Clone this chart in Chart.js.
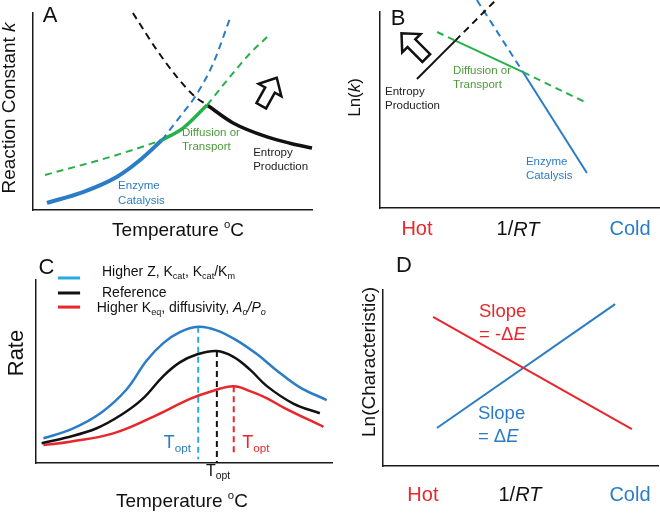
<!DOCTYPE html>
<html>
<head>
<meta charset="utf-8">
<script src="https://cdn.jsdelivr.net/npm/chart.js@4"></script>
<style>
  html, body { margin: 0; background: #fff; overflow: hidden; width: 660px; height: 513px; }
  .panel { position: absolute; }
</style>
</head>
<body>
<div class="panel" style="left:0;top:0;width:330px;height:245px"><canvas id="chartA"></canvas></div>
<div class="panel" style="left:330px;top:0;width:330px;height:245px"><canvas id="chartB"></canvas></div>
<div class="panel" style="left:0;top:245px;width:340px;height:268px"><canvas id="chartC"></canvas></div>
<div class="panel" style="left:330px;top:245px;width:330px;height:268px"><canvas id="chartD"></canvas></div>
<script>
const FONT = '"Liberation Sans", Arial, sans-serif';
const BLUE = '#2b7cc6', GREEN = '#27b04a', RED = '#e8262b', CYAN = '#29abe2', BLACK = '#111';
const GREEN_TXT = '#4c9a3a';

// Panel A: reaction constant k against temperature (arbitrary 0-100 units)
const aEnzyme = [[5, 3.6], [17.9, 9.1], [30, 16.8], [38.4, 25.4], [46.2, 35.5]];
const aEnzymeExtra = [[46.2, 35.5], [52.7, 47.4], [58.1, 57.5], [64.6, 74.5], [70.6, 97.3]];
const aDiffLow = [[4.3, 17.8], [24, 25.4], [35.8, 30.5], [46.2, 35.5]];
const aDiff = [[46.2, 35.5], [53.8, 41.6], [62.4, 53.3]];
const aDiffHigh = [[62.4, 53.3], [71.7, 69.5], [77.8, 79.5], [83.9, 87.8]];
const aEntropyExtra = [[35.8, 100], [44.4, 81.2], [51.6, 67.5], [58.1, 57.5], [62.4, 53.3]];
const aEntropy = [[62.4, 53.3], [71.7, 44.2], [83.9, 37.1], [92.1, 33.9], [100, 31.5]];

// Panel B: ln(k) against 1/RT
const bEntropy = [[13.2, 65.8], [26.9, 85.4]];
const bEntropyExtra = [[26.9, 85.4], [41.8, 106.7]];
const bDiffHot = [[20.4, 89.8], [26.9, 85.4]];
const bDiff = [[26.9, 85.4], [51.1, 69.3]];
const bDiffCold = [[51.1, 69.3], [73.2, 54.1]];
const bEnzymeExtra = [[34.6, 106.1], [51.1, 69.3]];
const bEnzyme = [[51.1, 69.3], [73.9, 17.9]];

// Panel C: rate against temperature
const cHigherZ = [[2.5, 13.5], [12, 18.5], [22, 27.5], [30.5, 40], [37.4, 56], [43, 65.5], [48.6, 71.5], [54.8, 74.4], [61, 72.5], [67.8, 67], [74.6, 59.5], [81, 51], [89, 41.5], [98.2, 34.4]];
const cReference = [[1.9, 10.8], [10, 13.8], [20.5, 19], [29, 26.5], [36, 35], [43, 47.5], [48.6, 55], [54.3, 59.3], [61.1, 61.2], [66.7, 58], [72.3, 51], [78, 42], [86.9, 32.5], [95.9, 27.2]];
const cHigherKeq = [[2.5, 9.8], [11.5, 11.6], [26.1, 16.2], [40.8, 26.2], [52, 35], [59.9, 39.5], [66.8, 42], [72.3, 39.3], [77.9, 35.5], [84, 30], [97.1, 19.8]];
const cToptX = [54.8, 61.1, 66.8];
const cToptTop = [74.4, 61.2, 42];
const cToptFloor = [2, 0, 4.4];

// Panel D: ln(characteristic) against 1/RT
const dNegSlope = [[18.2, 84.7], [90.5, 21]];
const dPosSlope = [[19.6, 21.6], [84.4, 92]];

const pts = arr => arr.map(([x, y]) => ({ x, y }));

// curve: false = straight, 'mono' = monotone cubic, number = bezier tension
function line(data, color, width, dashed, curve) {
  return {
    data: pts(data), borderColor: color, borderWidth: width,
    borderDash: dashed ? [7, 5] : [], pointRadius: 0, fill: false,
    cubicInterpolationMode: curve === 'mono' ? 'monotone' : 'default',
    tension: typeof curve === 'number' ? curve : 0, clip: false
  };
}

function drawRich(ctx, x, y, segs, opt) {
  const size = opt.size;
  ctx.save();
  ctx.translate(x, y);
  if (opt.rotate) ctx.rotate(-Math.PI / 2);
  ctx.textBaseline = 'middle';
  ctx.textAlign = 'left';
  ctx.fillStyle = opt.color || BLACK;
  const parts = segs.map(s => {
    const [t, st = ''] = typeof s === 'string' ? [s] : s;
    const sub = st.includes('s'), sup = st.includes('^');
    const sz = sub ? size * 0.65 : sup ? size * 0.6 : size;
    const font = (st.includes('i') ? 'italic ' : '') + sz + 'px ' + FONT;
    ctx.font = font;
    return { t, font, w: ctx.measureText(t).width, dy: sub ? size * 0.3 : sup ? -size * 0.33 : 0 };
  });
  const total = parts.reduce((a, p) => a + p.w, 0);
  let cx = opt.align === 'left' ? 0 : -total / 2;
  parts.forEach(p => { ctx.font = p.font; ctx.fillText(p.t, cx, p.dy); cx += p.w; });
  ctx.restore();
}

function drawArrow(ctx, cx, cy, deg, len) {
  const hw = 13, sw = 5.5, hl = 14, t = len / 2;
  ctx.save();
  ctx.translate(cx, cy);
  ctx.rotate(-deg * Math.PI / 180);
  ctx.beginPath();
  ctx.moveTo(t, 0);
  ctx.lineTo(t - hl, -hw);
  ctx.lineTo(t - hl, -sw);
  ctx.lineTo(-t, -sw);
  ctx.lineTo(-t, sw);
  ctx.lineTo(t - hl, sw);
  ctx.lineTo(t - hl, hw);
  ctx.closePath();
  ctx.fillStyle = '#fff';
  ctx.fill();
  ctx.lineWidth = 2.5;
  ctx.strokeStyle = BLACK;
  ctx.stroke();
  ctx.restore();
}

// text, legend swatches and arrows placed through the chart's scales
function annotator(notes, arrows) {
  return {
    id: 'annotator',
    afterDatasetsDraw(chart) {
      const { ctx, scales: { x, y } } = chart;
      arrows.forEach(a => drawArrow(ctx, x.getPixelForValue(a.x), y.getPixelForValue(a.y), a.angle, a.len));
      notes.forEach(n => {
        if (n.swatch) {
          ctx.save();
          ctx.strokeStyle = n.color;
          ctx.lineWidth = 3;
          ctx.beginPath();
          ctx.moveTo(x.getPixelForValue(n.x), y.getPixelForValue(n.y));
          ctx.lineTo(x.getPixelForValue(n.x2), y.getPixelForValue(n.y));
          ctx.stroke();
          ctx.restore();
          return;
        }
        const px = x.getPixelForValue(n.x), py = y.getPixelForValue(n.y);
        const lh = n.lineHeight || n.size * 1.2;
        n.lines.forEach((segs, i) => drawRich(ctx, px, py + i * lh, segs, n));
      });
    }
  };
}

const axis = () => ({
  type: 'linear', min: 0, max: 100,
  grid: { display: false, drawTicks: false },
  ticks: { display: false },
  border: { display: true, color: '#1a1a1a', width: 1.5 }
});

function panel(id, datasets, padding, notes, arrows) {
  return new Chart(document.getElementById(id), {
    type: 'line',
    data: { datasets },
    options: {
      animation: false, responsive: true, maintainAspectRatio: false,
      layout: { padding },
      plugins: { legend: { display: false }, tooltip: { enabled: false } },
      scales: { x: axis(), y: axis() }
    },
    plugins: [annotator(notes, arrows || [])]
  });
}

panel('chartA', [
  line(aEnzymeExtra, BLUE, 2, true, 'mono'),
  line(aDiffLow, GREEN, 2, true, 'mono'),
  line(aDiffHigh, GREEN, 2, true, 'mono'),
  line(aEntropyExtra, BLACK, 2, true, 'mono'),
  line(aEnzyme, BLUE, 4, false, 'mono'),
  line(aDiff, GREEN, 3.5, false, 'mono'),
  line(aEntropy, BLACK, 3.5, false, 'mono')
], { left: 33, top: 13, right: 18, bottom: 35 }, [
  { x: 6.1, y: 98.5, size: 22, lines: [['A']] },
  { x: -8.2, y: 51.8, size: 19, rotate: true, lines: [['Reaction Constant ', ['k', 'i']]] },
  { x: 52, y: -10.7, size: 19, lines: [['Temperature ', ['o', '^'], 'C']] },
  { x: 30.5, y: 12.2, size: 11.5, color: BLUE, align: 'left', lineHeight: 15, lines: [['Enzyme'], ['Catalysis']] },
  { x: 53.4, y: 39.1, size: 11.5, color: GREEN_TXT, align: 'left', lineHeight: 14, lines: [['Diffusion or'], ['Transport']] },
  { x: 78.9, y: 28.9, size: 11.5, color: '#222', align: 'left', lineHeight: 14, lines: [['Entropy'], ['Production']] }
], [{ x: 84.6, y: 60, angle: 61, len: 32 }]);

panel('chartB', [
  line(bEntropyExtra, BLACK, 2, true),
  line(bDiffHot, GREEN, 2, true),
  line(bDiffCold, GREEN, 2, true),
  line(bEnzymeExtra, BLUE, 2, true),
  line(bEntropy, BLACK, 2),
  line(bDiff, GREEN, 2),
  line(bEnzyme, BLUE, 2)
], { left: 50, top: 12, right: 0, bottom: 37 }, [
  { x: 6.5, y: 96.4, size: 22, lines: [['B']] },
  { x: -8.9, y: 56.4, size: 17, rotate: true, lines: [['Ln(', ['k', 'i'], ')']] },
  { x: 13.2, y: -11.2, size: 20, color: RED, lines: [['Hot']] },
  { x: 49.3, y: -11.2, size: 20, lines: [['1/', ['RT', 'i']]] },
  { x: 89.3, y: -11.2, size: 20, color: BLUE, lines: [['Cold']] },
  { x: 26.1, y: 69.9, size: 11.5, color: GREEN_TXT, align: 'left', lineHeight: 14, lines: [['Diffusion or'], ['Transport']] },
  { x: 1.8, y: 59.2, size: 11.5, color: '#222', align: 'left', lineHeight: 14, lines: [['Entropy'], ['Production']] },
  { x: 52.1, y: 23.5, size: 11.5, color: BLUE, align: 'left', lineHeight: 14, lines: [['Enzyme'], ['Catalysis']] }
], [{ x: 12.1, y: 82.8, angle: 135, len: 35 }]);

const toptColors = [CYAN, BLACK, RED];
const toptLines = cToptX.map((x, i) => ({
  data: [{ x, y: cToptTop[i] }, { x, y: cToptFloor[i] }],
  borderColor: toptColors[i], borderWidth: 2, borderDash: [6, 4], pointRadius: 0, clip: false
}));

panel('chartC', [
  line(cHigherZ, BLUE, 2.5, false, 0.4),
  line(cReference, BLACK, 2.5, false, 0.4),
  line(cHigherKeq, RED, 2.5, false, 0.4),
  ...toptLines
], { left: 36, top: 35, right: 8, bottom: 50 }, [
  { x: 3.5, y: 106.8, size: 22, lines: [['C']] },
  { swatch: true, x: 7.4, x2: 14.9, y: 101.1, color: CYAN },
  { swatch: true, x: 7.4, x2: 14.9, y: 92.9, color: BLACK },
  { swatch: true, x: 7.4, x2: 14.9, y: 85.2, color: RED },
  { x: 22.3, y: 104.4, size: 14, align: 'left', lines: [['Higher Z, K', ['cat', 's'], ', K', ['cat', 's'], '/K', ['m', 's']]] },
  { x: 22.3, y: 92.9, size: 14, align: 'left', lines: [['Reference']] },
  { x: 20.5, y: 84.7, size: 14, align: 'left', lines: [['Higher K', ['eq', 's'], ', diffusivity, ', ['A', 'i'], ['o', 'is'], ['/P', 'i'], ['o', 'is']]] },
  { x: -6.4, y: 60.1, size: 22, rotate: true, lines: [['Rate']] },
  { x: 49.3, y: -21.3, size: 19, lines: [['Temperature ', ['o', '^'], 'C']] },
  { x: 47.8, y: 10.9, size: 18, color: BLUE, lines: [['T', ['opt', 's']]] },
  { x: 74.3, y: 10.9, size: 18, color: RED, lines: [['T', ['opt', 's']]] },
  { x: 61.5, y: -4.6, size: 16, lines: [['T', ['opt', 's']]] }
]);

panel('chartD', [
  line(dNegSlope, RED, 2),
  line(dPosSlope, BLUE, 2)
], { left: 53, top: 45, right: 2, bottom: 47 }, [
  { x: 7.6, y: 113.6, size: 22, lines: [['D']] },
  { x: -4.7, y: 59.1, size: 19, rotate: true, lines: [['Ln(Characteristic)']] },
  { x: 34.9, y: 87.5, size: 18.5, color: RED, align: 'left', lineHeight: 23, lines: [['Slope'], ['= -Δ', ['E', 'i']]] },
  { x: 34.5, y: 29.5, size: 18.5, color: BLUE, align: 'left', lineHeight: 23, lines: [['Slope'], ['= Δ', ['E', 'i']]] },
  { x: 14.5, y: -16.5, size: 20, color: RED, lines: [['Hot']] },
  { x: 49.8, y: -16.5, size: 20, lines: [['1/', ['RT', 'i']]] },
  { x: 89.8, y: -16.5, size: 20, color: BLUE, lines: [['Cold']] }
]);
</script>
</body>
</html>
